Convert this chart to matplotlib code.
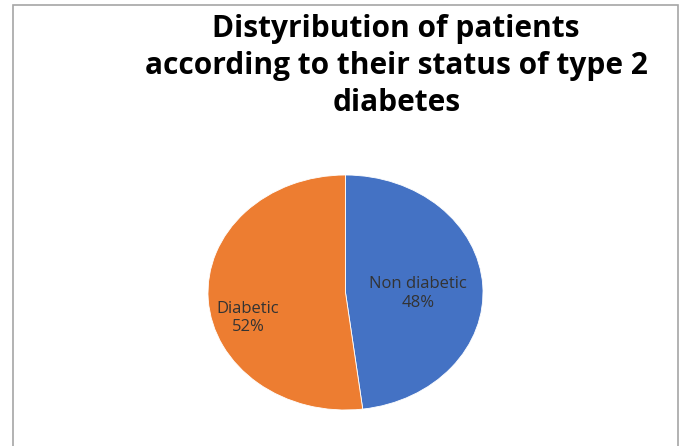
import matplotlib.pyplot as plt
from matplotlib.patches import Rectangle

# Data
labels = ["Non diabetic", "Diabetic"]
shares = [48, 52]
colors = ["#4472C4", "#ED7D31"]

fig = plt.figure(figsize=(6.82, 4.46), dpi=100)

# Chart frame (bottom edge runs off the canvas)
fig.patches.append(Rectangle((13 / 682, -0.05), 665 / 682, 1 - 5 / 446 + 0.05,
                             transform=fig.transFigure, fill=False,
                             edgecolor="#a6a6a6", linewidth=1.2))

# Pie is drawn slightly stretched horizontally
ax = fig.add_axes([208 / 682, 36 / 446, 275 / 682, 235 / 446])
ax.pie(shares, colors=colors, startangle=90, counterclock=False,
       wedgeprops=dict(linewidth=0.6, edgecolor="white"))
ax.set_aspect("auto")
ax.set_xlim(-1, 1)
ax.set_ylim(-1, 1)

total = sum(shares)
label_pos = [(0.527, -0.01), (-0.709, -0.217)]
for name, val, (x, y) in zip(labels, shares, label_pos):
    ax.text(x, y, f"{name}\n{val / total:.0%}", ha="center", va="center",
            fontsize=12, color="#333333", family="Open Sans", linespacing=1.2)

fig.text(0.581, 1 - 66 / 446, "Distyribution of patients\naccording to their status of type 2\ndiabetes",
         ha="center", va="center", fontsize=21.5, fontweight="bold",
         family="Open Sans", color="black", linespacing=1.3)

plt.savefig("out.png", dpi=100)
